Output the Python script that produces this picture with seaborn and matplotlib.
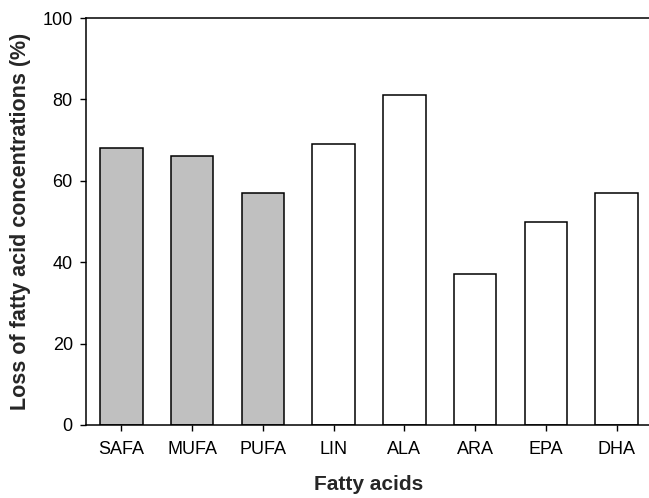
import matplotlib
matplotlib.use("Agg")
import matplotlib.pyplot as plt
import seaborn as sb
import pandas as pd

# fatty acid losses
acids = ["SAFA", "MUFA", "PUFA", "LIN", "ALA", "ARA", "EPA", "DHA"]
loss = [68, 66, 57, 69, 81, 37, 50, 57]
colours = ["#c0c0c0", "#c0c0c0", "#c0c0c0", "white", "white", "white", "white", "white"]

dataset = pd.DataFrame({"acid": acids, "loss": loss})

sb.set_style("ticks")
plt.rcParams["font.family"] = ["Liberation Sans", "DejaVu Sans"]

fig = plt.figure(figsize=(6.49, 4.98), dpi=100)
ax = fig.add_axes([0.1325, 0.1466, 0.872, 0.8172])
sb.barplot(x="acid", y="loss", hue="acid", data=dataset, palette=colours,
           legend=False, width=0.6, edgecolor="black", linewidth=1.1, saturation=1, ax=ax)

ax.set_xlim(-0.5, 7.5)
ax.set_ylim(0, 100)
ax.set_yticks([0, 20, 40, 60, 80, 100])
ax.spines["right"].set_visible(False)
for s in ["left", "bottom", "top"]:
    ax.spines[s].set_linewidth(1.1)
    ax.spines[s].set_color("black")
ax.tick_params(direction="out", length=4.5, width=1, labelsize=13, colors="black")
ax.tick_params(axis="x", pad=7)
ax.tick_params(axis="y", pad=5)
ax.set_xlabel("Fatty acids", fontsize=15, fontweight="bold", labelpad=12)
ax.set_ylabel("Loss of fatty acid concentrations (%)", fontsize=15.5, fontweight="bold", labelpad=8)

plt.savefig("out.png", dpi=100)
